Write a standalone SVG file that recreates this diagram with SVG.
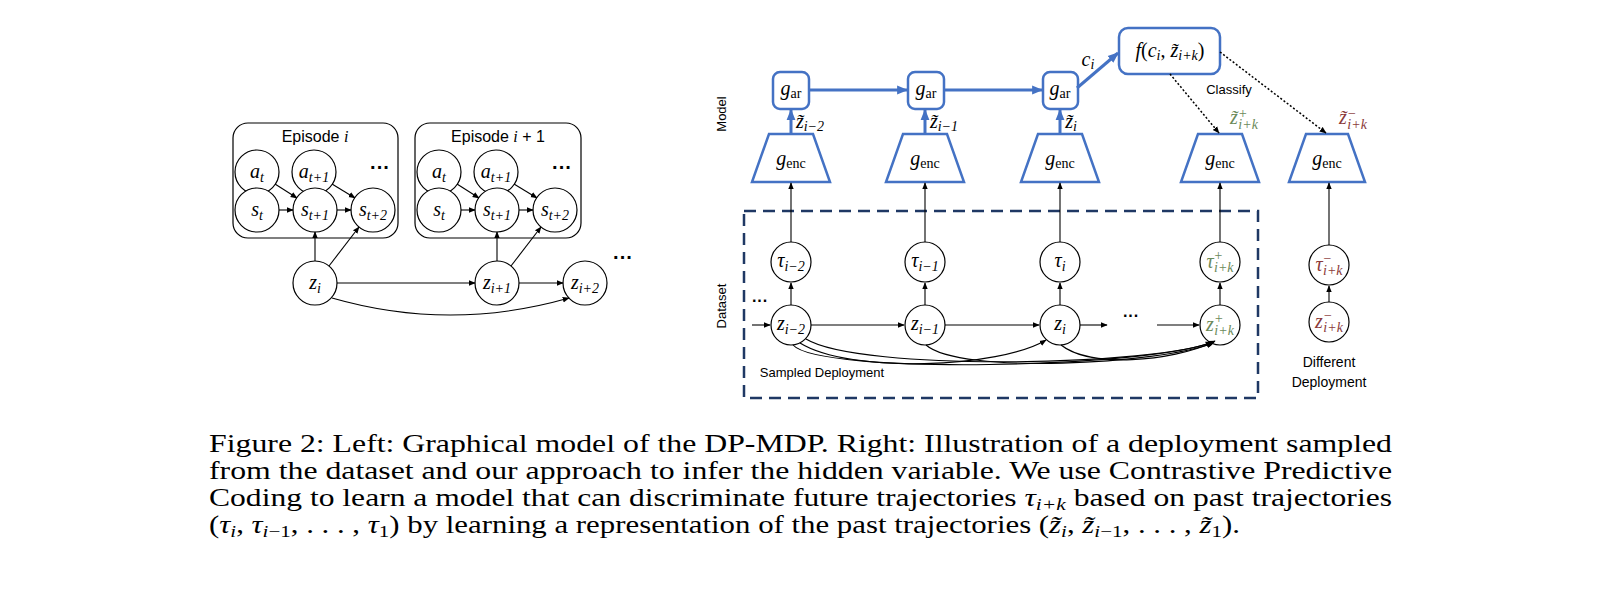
<svg xmlns="http://www.w3.org/2000/svg" width="1618" height="599" viewBox="0 0 1618 599">
<defs>
<marker id="ah" viewBox="0 0 10 10" refX="9" refY="5" markerWidth="7" markerHeight="7" orient="auto" markerUnits="userSpaceOnUse"><path d="M0,1 L10,5 L0,9 z" fill="#000"/></marker>
<marker id="bh" viewBox="0 0 10 10" refX="9" refY="5" markerWidth="11" markerHeight="11" orient="auto" markerUnits="userSpaceOnUse"><path d="M0,1 L10,5 L0,9 z" fill="#4472C4"/></marker>
<style>
.c{fill:#fff;stroke:#000;stroke-width:1.2}
.ep{fill:#fff;stroke:#000;stroke-width:1.2}
.m{font-family:"Liberation Serif",serif;font-style:italic;font-size:20px;text-anchor:middle}
.s{font-size:14px}
.r{font-style:normal}
.sans{font-family:"Liberation Sans",sans-serif;text-anchor:middle}
.e{fill:none;stroke:#000;stroke-width:1.1;marker-end:url(#ah)}
.b{fill:none;stroke:#4472C4;stroke-width:3;marker-end:url(#bh)}
.bx{fill:#fff;stroke:#4472C4;stroke-width:2.5}
.d{fill:none;stroke:#000;stroke-width:1.5;stroke-dasharray:2 2;marker-end:url(#ah)}
.g{fill:#6B8A5A}
.n{fill:#8B3A3A}
.cap{font-family:"Liberation Serif",serif;font-size:25px}
</style>
</defs>

<!-- Left figure -->
<g id="episode-i">
<rect class="ep" x="233" y="123" width="165" height="115" rx="15"/>
<text class="sans" x="315" y="142" font-size="16">Episode <tspan font-family="Liberation Serif" font-style="italic">i</tspan></text>
<circle class="c" cx="257" cy="172" r="22"/><text class="m" x="257" y="178">a<tspan class="s" dy="4">t</tspan></text>
<circle class="c" cx="314" cy="172" r="22"/><text class="m" x="314" y="178">a<tspan class="s" dy="4">t+1</tspan></text>
<text class="sans" x="380" y="174" font-size="20" font-weight="bold">···</text>
<circle class="c" cx="257" cy="210" r="22"/><text class="m" x="257" y="216">s<tspan class="s" dy="4">t</tspan></text>
<circle class="c" cx="315" cy="210" r="22"/><text class="m" x="315" y="216">s<tspan class="s" dy="4">t+1</tspan></text>
<circle class="c" cx="373" cy="210" r="22"/><text class="m" x="373" y="216">s<tspan class="s" dy="4">t+2</tspan></text>
</g>
<g id="episode-i1">
<rect class="ep" x="415" y="123" width="166" height="115" rx="15"/>
<text class="sans" x="498" y="142" font-size="16">Episode <tspan font-family="Liberation Serif" font-style="italic">i</tspan> + 1</text>
<circle class="c" cx="439" cy="172" r="22"/><text class="m" x="439" y="178">a<tspan class="s" dy="4">t</tspan></text>
<circle class="c" cx="496" cy="172" r="22"/><text class="m" x="496" y="178">a<tspan class="s" dy="4">t+1</tspan></text>
<text class="sans" x="562" y="174" font-size="20" font-weight="bold">···</text>
<circle class="c" cx="439" cy="210" r="22"/><text class="m" x="439" y="216">s<tspan class="s" dy="4">t</tspan></text>
<circle class="c" cx="497" cy="210" r="22"/><text class="m" x="497" y="216">s<tspan class="s" dy="4">t+1</tspan></text>
<circle class="c" cx="555" cy="210" r="22"/><text class="m" x="555" y="216">s<tspan class="s" dy="4">t+2</tspan></text>
</g>
<g id="z-left">
<circle class="c" cx="315" cy="283" r="22"/><text class="m" x="315" y="289">z<tspan class="s" dy="4">i</tspan></text>
<circle class="c" cx="497" cy="283" r="22"/><text class="m" x="497" y="289">z<tspan class="s" dy="4">i+1</tspan></text>
<circle class="c" cx="585" cy="283" r="22"/><text class="m" x="585" y="289">z<tspan class="s" dy="4">i+2</tspan></text>
<text class="sans" x="623" y="264" font-size="20" font-weight="bold">···</text>
</g>
<g id="left-edges">
<line class="e" x1="275" y1="184" x2="297" y2="198"/>
<line class="e" x1="332" y1="184" x2="355" y2="198"/>
<line class="e" x1="279" y1="210" x2="293" y2="210"/>
<line class="e" x1="337" y1="210" x2="351" y2="210"/>
<line class="e" x1="457" y1="184" x2="479" y2="198"/>
<line class="e" x1="514" y1="184" x2="537" y2="198"/>
<line class="e" x1="461" y1="210" x2="475" y2="210"/>
<line class="e" x1="519" y1="210" x2="533" y2="210"/>
<line class="e" x1="315" y1="261" x2="315" y2="232"/>
<line class="e" x1="329" y1="266" x2="359" y2="227"/>
<line class="e" x1="497" y1="261" x2="497" y2="232"/>
<line class="e" x1="511" y1="266" x2="541" y2="227"/>
<line class="e" x1="337" y1="283" x2="475" y2="283"/>
<line class="e" x1="519" y1="283" x2="563" y2="283"/>
<path class="e" d="M332,298 Q450,332 569,298"/>
</g>

<!-- Right figure -->
<text class="sans" font-size="13" transform="translate(726,114) rotate(-90)">Model</text>
<text class="sans" font-size="13" transform="translate(726,306) rotate(-90)">Dataset</text>
<rect x="744" y="211" width="514" height="187" fill="none" stroke="#1F3864" stroke-width="2.5" stroke-dasharray="12 7"/>
<text class="sans" x="822" y="377" font-size="13" text-anchor="start">Sampled Deployment</text>
<text class="sans" x="1329" y="367" font-size="14">Different</text>
<text class="sans" x="1329" y="387" font-size="14">Deployment</text>
<text class="sans" x="1229" y="94" font-size="13">Classify</text>

<g id="gar1"><rect class="bx" x="773" y="72" width="36" height="37" rx="7"/><text class="m" x="791" y="95">g<tspan class="s r" dy="3">ar</tspan></text></g>
<g id="gar2"><rect class="bx" x="908" y="72" width="36" height="37" rx="7"/><text class="m" x="926" y="95">g<tspan class="s r" dy="3">ar</tspan></text></g>
<g id="gar3"><rect class="bx" x="1043" y="72" width="35" height="37" rx="7"/><text class="m" x="1060" y="95">g<tspan class="s r" dy="3">ar</tspan></text></g>
<g id="f"><rect class="bx" x="1119" y="28" width="101" height="46" rx="9"/><text class="m" x="1170" y="57">f<tspan class="r">(</tspan>c<tspan class="s" dy="3">i</tspan><tspan class="r" dy="-3">, </tspan>z̃<tspan class="s" dy="3">i+k</tspan><tspan class="r" dy="-3">)</tspan></text></g>
<text class="m" x="1088" y="66">c<tspan class="s" dy="3">i</tspan></text>

<g id="enc1"><polygon class="bx" points="769,134 813,134 830,182 752,182"/><text class="m" x="791" y="165">g<tspan class="s r" dy="3">enc</tspan></text></g>
<g id="enc2"><polygon class="bx" points="903,134 947,134 964,182 886,182"/><text class="m" x="925" y="165">g<tspan class="s r" dy="3">enc</tspan></text></g>
<g id="enc3"><polygon class="bx" points="1038,134 1082,134 1099,182 1021,182"/><text class="m" x="1060" y="165">g<tspan class="s r" dy="3">enc</tspan></text></g>
<g id="enc4"><polygon class="bx" points="1198,134 1242,134 1259,182 1181,182"/><text class="m" x="1220" y="165">g<tspan class="s r" dy="3">enc</tspan></text></g>
<g id="enc5"><polygon class="bx" points="1306,134 1348,134 1365,182 1289,182"/><text class="m" x="1327" y="165">g<tspan class="s r" dy="3">enc</tspan></text></g>

<text class="m" x="810" y="128" font-size="16">z̃<tspan class="s" dy="3">i−2</tspan></text>
<text class="m" x="944" y="128" font-size="16">z̃<tspan class="s" dy="3">i−1</tspan></text>
<text class="m" x="1071" y="128" font-size="16">z̃<tspan class="s" dy="3">i</tspan></text>
<text class="m g" x="1244" y="124" font-size="16">z̃<tspan class="s" dy="-6">+</tspan><tspan class="s" dx="-9" dy="11">i+k</tspan></text>
<text class="m n" x="1353" y="124" font-size="16">z̃<tspan class="s" dy="-6">−</tspan><tspan class="s" dx="-9" dy="11">i+k</tspan></text>

<g id="tau1"><circle class="c" cx="791" cy="262" r="20"/><text class="m" x="791" y="267">τ<tspan class="s" dy="4">i−2</tspan></text></g>
<g id="tau2"><circle class="c" cx="925" cy="262" r="20"/><text class="m" x="925" y="267">τ<tspan class="s" dy="4">i−1</tspan></text></g>
<g id="tau3"><circle class="c" cx="1060" cy="262" r="20"/><text class="m" x="1060" y="267">τ<tspan class="s" dy="4">i</tspan></text></g>
<g id="tau4"><circle class="c" cx="1220" cy="262" r="20"/><text class="m g" x="1220" y="268">τ<tspan class="s" dy="-8">+</tspan><tspan class="s" dx="-9" dy="12">i+k</tspan></text></g>
<g id="tau5"><circle class="c" cx="1329" cy="265" r="20"/><text class="m n" x="1329" y="271">τ<tspan class="s" dy="-8">−</tspan><tspan class="s" dx="-9" dy="12">i+k</tspan></text></g>
<g id="z1"><circle class="c" cx="791" cy="325" r="20"/><text class="m" x="791" y="330">z<tspan class="s" dy="4">i−2</tspan></text></g>
<g id="z2"><circle class="c" cx="925" cy="325" r="20"/><text class="m" x="925" y="330">z<tspan class="s" dy="4">i−1</tspan></text></g>
<g id="z3"><circle class="c" cx="1060" cy="325" r="20"/><text class="m" x="1060" y="330">z<tspan class="s" dy="4">i</tspan></text></g>
<g id="z4"><circle class="c" cx="1220" cy="325" r="20"/><text class="m g" x="1220" y="331">z<tspan class="s" dy="-8">+</tspan><tspan class="s" dx="-9" dy="12">i+k</tspan></text></g>
<g id="z5"><circle class="c" cx="1329" cy="322" r="20"/><text class="m n" x="1329" y="328">z<tspan class="s" dy="-8">−</tspan><tspan class="s" dx="-9" dy="12">i+k</tspan></text></g>
<text class="sans" x="760" y="306" font-size="16" font-weight="bold">···</text>
<text class="sans" x="1131" y="321" font-size="16" font-weight="bold">···</text>

<g id="connectors">
<line class="b" x1="809" y1="90" x2="907" y2="90"/>
<line class="b" x1="944" y1="90" x2="1042" y2="90"/>
<line class="b" x1="1077" y1="88" x2="1118" y2="53"/>
<line class="b" x1="791" y1="134" x2="791" y2="110"/>
<line class="b" x1="925" y1="134" x2="925" y2="110"/>
<line class="b" x1="1060" y1="134" x2="1060" y2="110"/>
<line class="d" x1="1170" y1="74" x2="1219" y2="133"/>
<line class="d" x1="1220" y1="52" x2="1326" y2="133"/>
<line class="e" x1="791" y1="242" x2="791" y2="183"/>
<line class="e" x1="925" y1="242" x2="925" y2="183"/>
<line class="e" x1="1060" y1="242" x2="1060" y2="183"/>
<line class="e" x1="1220" y1="242" x2="1220" y2="183"/>
<line class="e" x1="1329" y1="245" x2="1329" y2="183"/>
<line class="e" x1="791" y1="305" x2="791" y2="283"/>
<line class="e" x1="925" y1="305" x2="925" y2="283"/>
<line class="e" x1="1060" y1="305" x2="1060" y2="283"/>
<line class="e" x1="1220" y1="305" x2="1220" y2="283"/>
<line class="e" x1="1329" y1="302" x2="1329" y2="286"/>
<line class="e" x1="752" y1="325" x2="770" y2="325"/>
<line class="e" x1="811" y1="325" x2="904" y2="325"/>
<line class="e" x1="945" y1="325" x2="1039" y2="325"/>
<line class="e" x1="1080" y1="325" x2="1107" y2="325"/>
<line class="e" x1="1157" y1="325" x2="1199" y2="325"/>
<path class="e" d="M793,345 C820,375 1150,368 1212,342"/>
<path class="e" d="M806,339 C860,372 1160,366 1215,341"/>
<path class="e" d="M926,345 C960,375 1160,364 1213,343"/>
<path class="e" d="M1061,345 C1090,368 1170,362 1214,342"/>
<path class="e" d="M800,343 C850,374 1000,368 1046,340"/>
</g>

<!-- Caption -->
<g id="caption" class="cap">
<text x="209" y="452" textLength="1183" lengthAdjust="spacingAndGlyphs">Figure 2: Left: Graphical model of the DP-MDP. Right: Illustration of a deployment sampled</text>
<text x="209" y="479" textLength="1183" lengthAdjust="spacingAndGlyphs">from the dataset and our approach to infer the hidden variable. We use Contrastive Predictive</text>
<text x="209" y="506" textLength="1183" lengthAdjust="spacingAndGlyphs">Coding to learn a model that can discriminate future trajectories <tspan font-style="italic">τ</tspan><tspan font-size="17" font-style="italic" dy="4">i+k</tspan><tspan dy="-4"> based on past trajectories</tspan></text>
<text x="209" y="533" textLength="1031" lengthAdjust="spacingAndGlyphs">(<tspan font-style="italic">τ</tspan><tspan font-size="17" font-style="italic" dy="4">i</tspan><tspan dy="-4">, </tspan><tspan font-style="italic">τ</tspan><tspan font-size="17" dy="4"><tspan font-style="italic">i</tspan>−1</tspan><tspan dy="-4">, . . . , </tspan><tspan font-style="italic">τ</tspan><tspan font-size="17" dy="4">1</tspan><tspan dy="-4">) by learning a representation of the past trajectories (</tspan><tspan font-style="italic">z̃</tspan><tspan font-size="17" font-style="italic" dy="4">i</tspan><tspan dy="-4">, </tspan><tspan font-style="italic">z̃</tspan><tspan font-size="17" dy="4"><tspan font-style="italic">i</tspan>−1</tspan><tspan dy="-4">, . . . , </tspan><tspan font-style="italic">z̃</tspan><tspan font-size="17" dy="4">1</tspan><tspan dy="-4">).</tspan></text>
</g>
</svg>
